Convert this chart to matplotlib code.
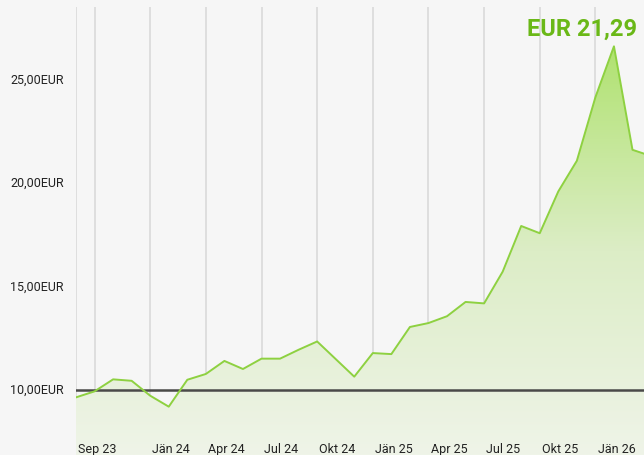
import matplotlib
matplotlib.use("Agg")
import matplotlib.pyplot as plt
import numpy as np
from matplotlib.colors import LinearSegmentedColormap

# monthly values starting Sep 23
values = [9.63, 9.92, 10.50, 10.43, 9.71, 9.18, 10.48, 10.76, 11.39, 11.00,
          11.50, 11.50, 11.93, 12.33, 11.48, 10.63, 11.77, 11.72, 13.03, 13.22,
          13.55, 14.24, 14.17, 15.70, 17.91, 17.56, 19.58, 21.06, 24.13, 26.59,
          21.59, 21.29]
grid_months = [0, 1, 4, 7, 10, 13, 16, 19, 22, 25, 28]
tick_months = [0, 4, 7, 10, 13, 16, 19, 22, 25, 28]
tick_labels = ["Sep 23", "Jän 24", "Apr 24", "Jul 24", "Okt 24", "Jän 25",
               "Apr 25", "Jul 25", "Okt 25", "Jän 26"]
y_ticks = [10, 15, 20, 25]
y_labels = ["10,00EUR", "15,00EUR", "20,00EUR", "25,00EUR"]
baseline = 10
current_label = "EUR 21,29"

plt.rcParams['font.family'] = ['Roboto', 'DejaVu Sans']
bg = "#f6f6f6"
fig = plt.figure(figsize=(6.44, 4.56), dpi=100, facecolor=bg)
ax = fig.add_axes([76/644, 0, 1 - 76/644, 448/456])
ax.set_facecolor(bg)
x = np.arange(len(values))
xmax = (644 - 76) / 18.55
ymin, ymax = 6.845, 28.49
ax.set_xlim(0, xmax)
ax.set_ylim(ymin, ymax)

for g in grid_months:
    ax.axvline(g, color="#dedede", lw=1.4, zorder=1)

# gradient fill
cmap = LinearSegmentedColormap.from_list("g", ["#eff4e8", "#dcedc6", "#b0e270"])
grad = np.linspace(0, 1, 256).reshape(-1, 1)
im = ax.imshow(grad, extent=[0, xmax, ymin, max(values)], origin="lower",
               aspect="auto", cmap=cmap, zorder=2)
poly = ax.fill_between(x, values, ymin, color="none", lw=0)
path = poly.get_paths()[0]
im.set_clip_path(path, transform=ax.transData)

ax.plot(x, values, color="#8ed141", lw=1.4, zorder=4)
ax.axhline(baseline, color="#4a4a48", lw=1.8, zorder=3)

for s in ax.spines.values():
    s.set_visible(False)
ax.set_xticks([])
ax.set_yticks([])

for t, lab in zip(tick_months, tick_labels):
    ax.text(t + 0.12, 7.15, lab, ha="left", va="center", fontsize=9,
            color="#222222", zorder=5)
for v, lab in zip(y_ticks, y_labels):
    fig.text(64/644, ax.transData.transform((0, v))[1] / 456, lab,
             ha="right", va="center", fontsize=9, color="#222222")

fig.text(637/644, 1 - 29/456, current_label, ha="right", va="center",
         fontsize=17, fontweight="bold", color="#6ab817")

fig.savefig("out.png", dpi=100, facecolor=bg)
